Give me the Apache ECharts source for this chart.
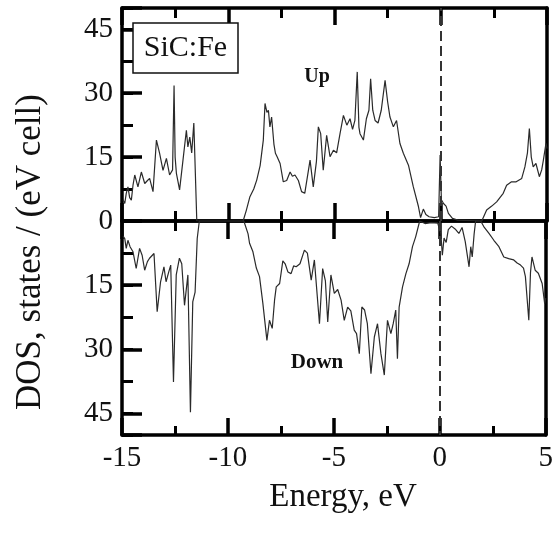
<!DOCTYPE html>
<html>
<head>
<meta charset="utf-8">
<script src="https://cdn.jsdelivr.net/npm/echarts@6/dist/echarts.min.js"></script>
<style>
html,body{margin:0;padding:0;background:#fff;}
#chart{width:556px;height:545px;}
</style>
</head>
<body>
<div id="chart"></div>
<script>
// Energy range and ticks
const xMin = -15, xMax = 5, xMajor = 5, xMinor = 2.5;
const yMajor = 15, yMinorStep = 7.5, yLimit = 50;
const xTitle = 'Energy, eV';
const yTitle = 'DOS, states / (eV cell)';
const sampleLabel = 'SiC:Fe';
const upLabel = 'Up';
const downLabel = 'Down';

// Spin-up DOS: energy (eV) and value
const upE = [-14.95,-14.87,-14.80,-14.72,-14.64,-14.56,-14.48,-14.40,-14.25,-14.09,-13.93,-13.80,-13.70,-13.54,-13.38,-13.23,-13.07,-12.91,-12.76,-12.62,-12.55,-12.50,-12.44,-12.29,-12.13,-11.97,-11.90,-11.81,-11.72,-11.62,-11.48,
  -9.30,-9.15,-8.98,-8.80,-8.66,-8.50,-8.35,-8.27,-8.18,-8.11,-8.04,-7.96,-7.85,-7.78,-7.70,-7.56,-7.41,-7.25,-7.09,-6.98,-6.86,-6.70,-6.55,-6.40,-6.31,-6.15,-6.00,-5.85,-5.76,-5.65,-5.53,-5.37,-5.21,-5.05,-4.90,-4.74,-4.58,-4.42,-4.27,-4.15,-4.04,-3.93,-3.85,-3.80,-3.64,-3.50,-3.38,-3.30,-3.20,-3.09,-2.95,-2.80,-2.62,-2.50,-2.39,-2.23,-2.08,-1.92,-1.76,-1.52,-1.29,-1.05,-0.95,-0.82,-0.70,-0.55,-0.30,-0.10,-0.03,0.03,0.13,0.25,0.36,0.55,0.80,
  1.93,2.16,2.40,2.63,2.94,3.10,3.33,3.55,3.81,3.96,4.08,4.17,4.26,4.35,4.48,4.64,4.75,4.83,4.95,5.00];
const upV = [5,4.1,6.5,8.0,5.5,4.9,8.5,10.8,8.0,11.5,8.8,9.5,10.0,6.9,19.0,15.9,11.9,14.7,10.8,12,31.8,15,11.2,7.3,14.3,21.3,17.4,19.7,16,23.0,0,
  0,2.5,5.7,7.5,9.6,13,19.0,27.6,25.5,26.0,22.1,24.4,18,15.9,15.1,13.5,9.2,9.5,11.5,10.5,10.8,9.5,6.9,6.5,6.9,14.3,8.0,14,22.1,20.5,11.9,20.1,15.1,16.6,16,20.5,24.8,22.5,24.0,21.5,23.6,35.0,22,20.5,19.0,24,26,33.4,26,23.6,23,26,33.0,28,24.4,22.1,23.6,18.2,15.9,13.1,8.0,3.4,0.8,2.8,1.5,1.0,0.8,1.0,15.5,5,4.1,3.5,1.8,0.6,0.2,
  0,2.6,3.5,4.5,6.5,8.4,9.2,9.2,10.0,12.7,16,21.7,15,12.7,13.5,10.4,12,14.3,18.2,17];

// Spin-down DOS: energy (eV) and magnitude
const downE = [-14.95,-14.87,-14.80,-14.72,-14.62,-14.48,-14.33,-14.17,-14.05,-13.93,-13.80,-13.70,-13.49,-13.34,-13.18,-13.02,-12.92,-12.80,-12.70,-12.57,-12.44,-12.29,-12.18,-12.05,-11.89,-11.77,-11.66,-11.55,-11.45,-11.35,
  -9.25,-9.05,-8.98,-8.82,-8.66,-8.51,-8.35,-8.16,-8.04,-7.91,-7.80,-7.72,-7.56,-7.41,-7.30,-7.17,-7.02,-6.90,-6.78,-6.60,-6.39,-6.25,-6.07,-5.92,-5.68,-5.53,-5.40,-5.29,-5.14,-4.98,-4.82,-4.66,-4.51,-4.35,-4.20,-4.04,-3.93,-3.80,-3.68,-3.55,-3.42,-3.25,-3.09,-2.94,-2.78,-2.62,-2.47,-2.31,-2.20,-2.08,-2.00,-1.92,-1.76,-1.60,-1.45,-1.29,-1.14,-0.95,
  -0.70,-0.40,-0.10,0.05,0.12,0.20,0.30,0.40,0.55,0.75,0.90,1.05,1.20,1.38,1.46,1.53,1.62,1.69,
  1.93,2.10,2.32,2.55,2.79,3.02,3.25,3.49,3.65,3.81,3.95,4.04,4.20,4.28,4.35,4.50,4.65,4.83,4.95,5.00];
const downV = [3.5,4.1,6.4,4.5,6,7.2,11.1,6.4,8,11.5,9.5,8.7,7.6,21.2,14.2,10.7,14.2,12,10.3,37.6,12.6,8.7,10,19.7,12.6,44.7,18.9,16.6,4.1,0,
  0,3,5.2,7.2,11,13,19.3,27.9,23.2,25.1,18.5,15.4,14.6,9.3,10,11.9,12.3,10.5,10.7,10,6.8,7.5,13.8,9.1,24.0,11.1,14,23.6,12.6,16.9,16,18.5,23.2,20.1,21,25.5,26.3,31.0,20.1,20.8,24,35.7,27.1,24.0,31.0,36.0,23.2,26.3,24,20.8,32.2,20.1,15.4,12.3,10,6.0,3.7,0,
  0.6,0.4,0.5,3,8,4,5,2,1.2,2.0,2.9,1.5,4.8,10.7,6,8.4,3,0,
  0,1.5,2.9,4.5,6.0,8.4,8.8,9.1,9.8,10.3,11,13.0,23.2,12,8.4,11.5,12.2,14.6,19.3,18];

const upData = upE.map((e, i) => [e, upV[i]]);
const downData = downE.map((e, i) => [e, downV[i]]);

const FONT = 'Liberation Serif';
const INK = '#111';

function xAx(gridIndex, position, showLabel, majorLen, minorLen) {
  return {
    type: 'value', gridIndex, position, min: xMin, max: xMax, interval: xMajor,
    axisLine: { show: true, onZero: false, lineStyle: { color: '#000', width: 3.5 } },
    axisTick: { show: true, inside: true, length: majorLen, lineStyle: { color: '#000', width: 3.5 } },
    minorTick: { show: true, splitNumber: Math.round(xMajor / xMinor), length: minorLen, lineStyle: { color: '#000', width: 3 } },
    splitLine: { show: false },
    axisLabel: { show: showLabel, color: INK, fontFamily: FONT, fontSize: 29, margin: 9 }
  };
}
function yMajorAx(gridIndex, inverse, hide) {
  return {
    type: 'value', gridIndex, position: 'left', min: 0, max: yLimit, interval: yMajor, inverse,
    axisLine: { show: true, onZero: false, lineStyle: { color: '#000', width: 3.5 } },
    axisTick: { show: true, inside: true, length: 20, lineStyle: { color: '#000', width: 3.5 } },
    splitLine: { show: false },
    axisLabel: { show: true, color: INK, fontFamily: FONT, fontSize: 29, margin: 9,
      formatter: v => (hide.indexOf(v) >= 0 ? '' : String(v)) }
  };
}
function yMinorAx(gridIndex, inverse) {
  return {
    type: 'value', gridIndex, position: 'left', min: 0, max: yLimit, interval: yMinorStep, inverse,
    axisLine: { show: false, onZero: false },
    axisTick: { show: true, inside: true, length: 11, lineStyle: { color: '#000', width: 3 } },
    splitLine: { show: false },
    axisLabel: { show: false }
  };
}
function yRightAx(gridIndex, inverse) {
  return {
    type: 'value', gridIndex, position: 'right', min: 0, max: yLimit, inverse,
    axisLine: { show: true, onZero: false, lineStyle: { color: '#000', width: 3.5 } },
    axisTick: { show: false }, splitLine: { show: false }, axisLabel: { show: false }
  };
}

const dash = {
  silent: true, symbol: ['none', 'none'], label: { show: false },
  lineStyle: { type: [10, 5], width: 2, color: '#333' },
  data: [{ xAxis: 0 }]
};

const chart = echarts.init(document.getElementById('chart'), null, { renderer: 'canvas' });
chart.setOption({
  animation: false,
  backgroundColor: '#fff',
  grid: [
    { left: 122, right: 9, top: 8, height: 213 },
    { left: 122, right: 9, top: 221, height: 214 }
  ],
  xAxis: [
    xAx(0, 'top', false, 17, 10),
    xAx(0, 'bottom', false, 18, 10),
    xAx(1, 'top', false, 18, 10),
    xAx(1, 'bottom', true, 17, 9)
  ],
  yAxis: [
    yMajorAx(0, false, [yLimit]),
    yMinorAx(0, false),
    yRightAx(0, false),
    yMajorAx(1, true, [0, yLimit]),
    yMinorAx(1, true),
    yRightAx(1, true)
  ],
  series: [
    { type: 'line', name: 'Up', xAxisIndex: 1, yAxisIndex: 0, data: upData, symbol: 'none',
      lineStyle: { color: '#2a2a2a', width: 1.2 }, markLine: dash, z: 3 },
    { type: 'line', name: 'Down', xAxisIndex: 3, yAxisIndex: 3, data: downData, symbol: 'none',
      lineStyle: { color: '#2a2a2a', width: 1.2 }, markLine: dash, z: 3 }
  ],
  graphic: [
    { type: 'rect', z: 100, shape: { x: 133, y: 23, width: 105, height: 50 },
      style: { fill: '#fff', stroke: '#111', lineWidth: 1.5 } },
    { type: 'text', z: 101, x: 185.5, y: 48,
      style: { text: sampleLabel, font: '30px "Liberation Serif"', fill: INK, textAlign: 'center', textVerticalAlign: 'middle' } },
    { type: 'text', z: 101, x: 317, y: 77,
      style: { text: upLabel, font: 'bold 20px "Liberation Serif"', fill: INK, textAlign: 'center', textVerticalAlign: 'middle' } },
    { type: 'text', z: 101, x: 317, y: 363,
      style: { text: downLabel, font: 'bold 21px "Liberation Serif"', fill: INK, textAlign: 'center', textVerticalAlign: 'middle' } },
    { type: 'text', z: 101, x: 31, y: 252, rotation: Math.PI / 2,
      style: { text: yTitle, font: '35px "Liberation Serif"', fill: INK, textAlign: 'center', textVerticalAlign: 'middle' } },
    { type: 'text', z: 101, x: 343, y: 497,
      style: { text: xTitle, font: '33px "Liberation Serif"', fill: INK, textAlign: 'center', textVerticalAlign: 'middle' } }
  ]
});
</script>
</body>
</html>
